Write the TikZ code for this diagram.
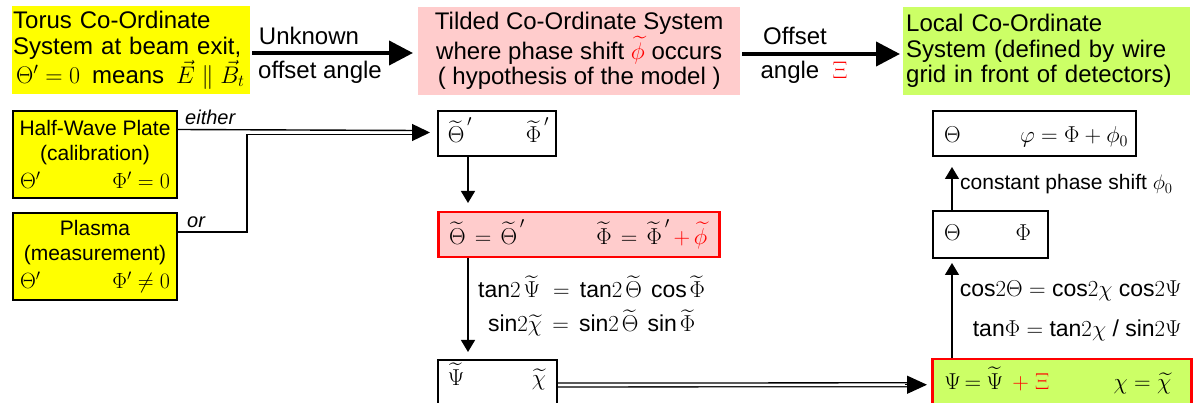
\RequirePackage{fix-cm}
\documentclass[tikz,border=0pt]{standalone}
\DeclareFontShape{OMX}{cmex}{m}{n}{<->cmex10}{}
\usepackage{fontspec}
\setmainfont{Liberation Sans}
\usetikzlibrary{arrows.meta,calc}
\definecolor{tyellow}{HTML}{FFFF00}
\definecolor{tpink}{HTML}{FFCCCC}
\definecolor{tgreen}{HTML}{CCFF66}
\definecolor{tred}{HTML}{FF0000}
\newcommand{\bx}[5]{\makebox[#1pt][l]{\rule[-#3pt]{0pt}{\dimexpr#2pt+#3pt\relax}\hspace{#4pt}#5}}
\newcommand{\wT}[1]{\widetilde{\mkern2.2mu#1\mkern2.2mu}}
\newcommand{\wt}[1]{\widetilde{#1}}
\begin{document}
\begin{tikzpicture}[x=1pt,y=-1pt,
  titlebox/.style={anchor=north west, inner sep=0pt, minimum height=88pt, font=\fontsize{24}{25.5}\selectfont},
  sidebox/.style={draw, line width=2pt, fill=tyellow, anchor=north west, inner sep=0pt, minimum width=164pt, minimum height=87pt, align=center, font=\fontsize{21}{25}\selectfont},
  mathbox/.style={draw, line width=2pt, anchor=north west, inner sep=0pt, font=\fontsize{23}{25}\selectfont},
  redbox/.style={mathbox, draw=tred, line width=2.5pt},
  bigarrow/.style={line width=4pt, -{Triangle[length=24pt,width=24pt]}},
  thinline/.style={line width=1.4pt},
  vtip/.style={thinline, -{Triangle[length=12pt,width=14pt]}},
  lbl/.style={inner sep=0pt, font=\fontsize{24}{26}\selectfont},
  eqn/.style={inner sep=0pt, font=\fontsize{23}{25}\selectfont},
  small/.style={inner sep=0pt, font=\fontsize{20}{22}\selectfont}]
\useasboundingbox (0,0) rectangle (1200,403);
% top row
\node[titlebox, fill=tyellow, minimum width=238pt, text width=236pt, inner xsep=1pt, align=left] (torus) at (12,6)
  {Torus Co-Ordinate\\System at beam exit,\\\mbox{\hspace{3pt}$\Theta'=0$\ \,means\ \,$\vec E\parallel\vec B_t$}};
\node[titlebox, fill=tpink, minimum width=322pt, align=center] (tilded) at (418,7)
  {Tilded Co-Ordinate System\\where phase shift {\color{tred}$\wt{\phi}$} occurs\\( hypothesis of the model )};
\node[titlebox, fill=tgreen, minimum width=287pt, text width=281pt, inner xsep=3pt, align=left] (local) at (903,7)
  {Local Co-Ordinate\\System (defined by wire\\grid in front of detectors)};
\draw[bigarrow] ($(torus.north east)+(2,47)$) -- ($(tilded.north west)+(-5,46)$);
\draw[bigarrow] ($(tilded.north east)+(2,47)$) -- ($(local.north west)+(-3,47)$);
\node[lbl, anchor=base] (unknown) at (309,45) {Unknown};
\node[lbl, anchor=base] (offang) at (320,79) {offset angle};
\node[lbl, anchor=base] (offset) at (795,45) {Offset};
\node[lbl, anchor=base] (angxi) at (804,79) {angle\ \ {\color{tred}$\Xi$}};
% left boxes
\node[sidebox] (hwp) at (12,110)
  {Half-Wave Plate\\(calibration)\\[3pt]{\fontsize{22}{24}\selectfont\makebox[150pt]{$\Theta'$\hfill$\Phi'=0$}}};
\node[sidebox] (plasma) at (12,212)
  {Plasma\\(measurement)\\[3pt]{\fontsize{22}{24}\selectfont\makebox[150pt]{$\Theta'$\hfill$\Phi'\neq0$}}};
% tilded boxes
\node[mathbox, fill=white] (t1) at (437,110)
  {\bx{118}{32}{13}{7}{$\wT{\Theta}'$\hfill$\wT{\Phi}'$\hspace{7pt}}};
\node[redbox, fill=tpink] (t2) at (437,211)
  {\bx{281}{32}{13}{8}{$\wT{\Theta}=\wT{\Theta}'$\hfill$\wT{\Phi}=\wT{\Phi}'$\,{\color{tred}$+\,\wt{\phi}$}\hspace{12pt}}};
\node[mathbox, fill=white] (t3) at (437,359)
  {\bx{119}{25}{30}{7}{$\wT{\Psi}$\hfill$\wt{\chi}$\hspace{11pt}}};
% local boxes
\node[redbox, fill=tgreen] (t4) at (931,358)
  {\bx{259}{30}{30}{12}{$\Psi\mkern3mu{=}\mkern2mu\wT{\Psi}\mkern2mu$\,{\color{tred}${+}\mkern5mu\Xi$}\hfill$\chi=\wt{\chi}$\hspace{20pt}}};
\node[mathbox, fill=white] (t5) at (932,210)
  {\bx{115}{30}{17}{11}{$\Theta$\hfill$\Phi$\hspace{17pt}}};
\node[mathbox, fill=white] (t6) at (932,110)
  {\bx{203}{32}{13}{11}{$\Theta$\hfill$\varphi=\Phi+\phi_0$\hspace{8pt}}};
% either / or connectors
\draw[thinline] ($(hwp.north east)+(0,19.5)$) -- ($(t1.west)+(-20,-3)$);
\draw[thinline] ($(plasma.north east)+(0,20)$) -| ($(t1.west)+(-190,1)$) -- ($(t1.west)+(-20,1)$);
\draw[thinline, -{Triangle[length=18pt,width=17pt]}] ($(t1.west)+(-24,-1)$) -- ($(t1.west)+(-7,-1)$);
\node[small, anchor=base west, font=\fontsize{20}{22}\selectfont\itshape] (either) at (185,125) {either};
\node[small, anchor=base west, font=\fontsize{20}{22}\selectfont\itshape] (or) at (187,228) {or};
% vertical arrows
\draw[vtip] ($(t1.south west)+(31,0)$) -- ($(t2.north west)+(31,-8)$);
\draw[vtip] ($(t2.south west)+(31,0)$) -- ($(t3.north west)+(31,-7)$);
\draw[vtip] ($(t4.north west)+(21,0)$) -- ($(t5.south west)+(20,4)$);
\draw[vtip] ($(t5.north west)+(20,0)$) -- ($(t6.south west)+(20,10)$);
% double connector
\draw[line width=1.3pt, double=white, double distance=2.6pt] ($(t3.east)+(0,-2.5)$) -- ($(t4.west)+(-22,-4.5)$);
\draw[thinline, -{Triangle[length=20pt,width=18pt]}] ($(t4.west)+(-26,-4.5)$) -- ($(t4.west)+(-4,-4.5)$);
% equations
\node[eqn, anchor=base] (eqa) at (593,298) {tan$2\wT{\Psi}$\ \,$=$\ \,tan$2\wT{\Theta}$ cos$\wT{\Phi}$};
\node[eqn, anchor=base] (eqb) at (593,332) {sin$2\wt{\chi}$\ \,$=$\ \,sin$2\wT{\Theta}$ sin$\wT{\Phi}$};
\node[eqn, anchor=base east] (eqc) at (1182,297) {cos$2\Theta$\ $=$\ cos$2\chi$ cos$2\Psi$};
\node[eqn, anchor=base east] (eqd) at (1182,337) {tan$\Phi$\ $=$\ tan$2\chi$ / sin$2\Psi$};
\node[small, anchor=base west, font=\fontsize{21}{23}\selectfont] (cps) at (960,190) {constant phase shift $\phi_0$};
\end{tikzpicture}
\end{document}
